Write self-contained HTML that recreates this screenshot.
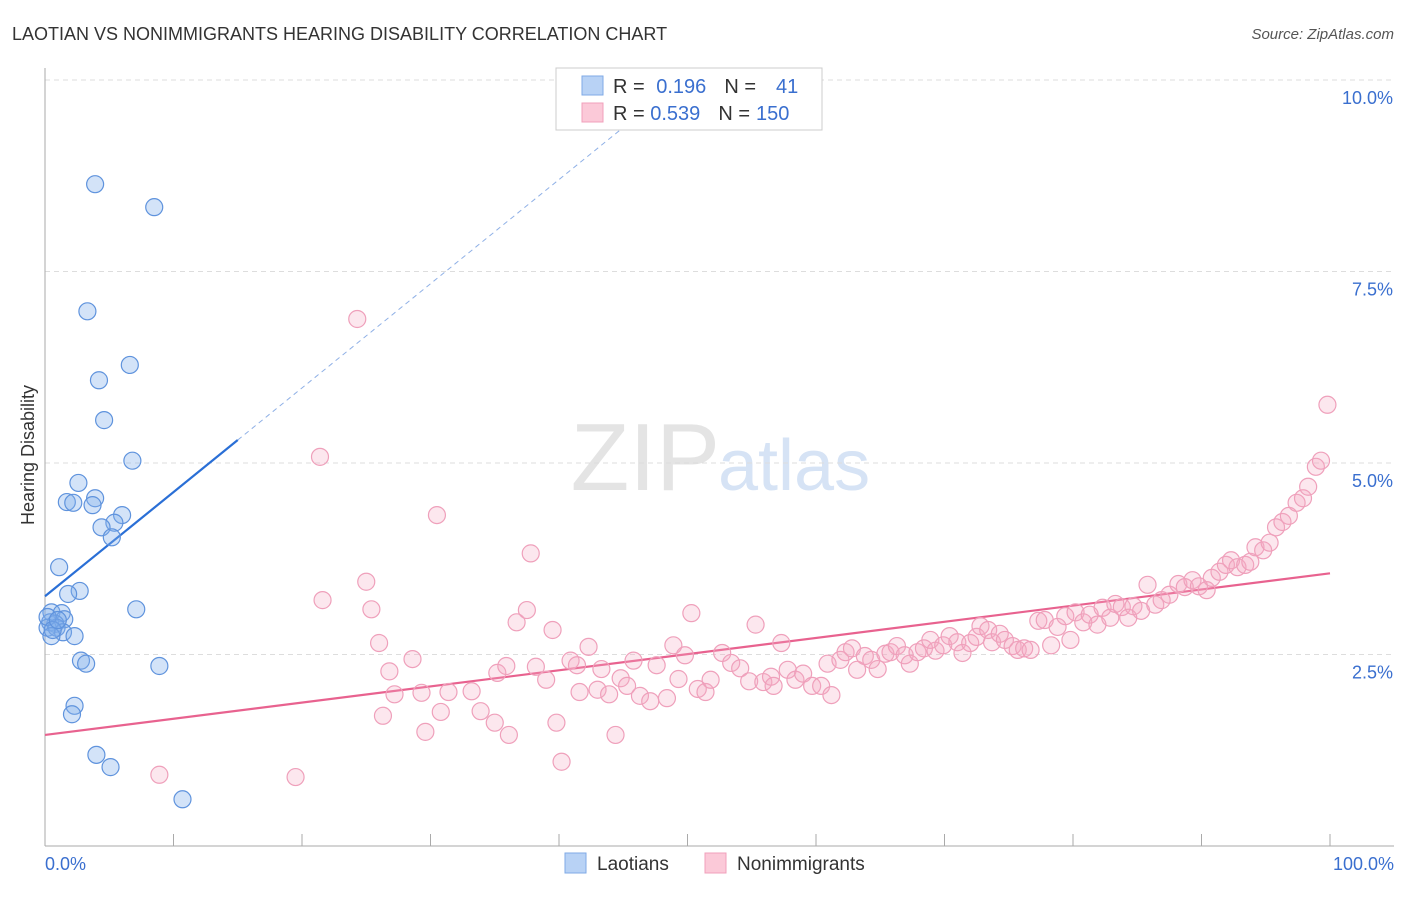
<!DOCTYPE html>
<html><head><meta charset="utf-8"><style>
body{margin:0;background:#fff;font-family:"Liberation Sans",sans-serif}
svg text{font-family:"Liberation Sans",sans-serif}
</style></head><body>
<svg id="chart" width="1406" height="892" viewBox="0 0 1406 892" xmlns="http://www.w3.org/2000/svg">
<text x="12" y="40" font-size="18" fill="#333">LAOTIAN VS NONIMMIGRANTS HEARING DISABILITY CORRELATION CHART</text>
<text x="1394" y="39" font-size="15" fill="#555" text-anchor="end" font-style="italic">Source: ZipAtlas.com</text>
<text x="720" y="490" font-size="96" fill="#e4e4e4" text-anchor="end" font-family="Liberation Serif">ZIP</text>
<text x="718" y="490" font-size="72" fill="#d6e3f5">atlas</text>
<g id="grid"></g>
<g id="axes"></g>
<g id="lines"></g>
<g id="pts"></g>
<text transform="translate(34,455) rotate(-90)" font-size="18" fill="#333" text-anchor="middle">Hearing Disability</text>
<g>
<rect x="556" y="68" width="266" height="62" fill="#fff" stroke="#ccc"/>
<rect x="582" y="76" width="21" height="19" fill="#b8d2f5" stroke="#7faae6"/>
<rect x="582" y="103" width="21" height="19" fill="#fbc9d8" stroke="#f0a0bb"/>
<text x="613" y="93" font-size="20" fill="#333">R = <tspan fill="#3a6fcf" dx="6">0.196</tspan><tspan dx="18" fill="#333">N =</tspan><tspan dx="20" fill="#3a6fcf">41</tspan></text>
<text x="613" y="120" font-size="20" fill="#333">R = <tspan fill="#3a6fcf">0.539</tspan><tspan dx="18" fill="#333">N =</tspan><tspan dx="6" fill="#3a6fcf">150</tspan></text>
</g>
<g>
<rect x="565" y="853" width="21" height="20" fill="#b8d2f5" stroke="#7faae6"/>
<text x="597" y="870" font-size="19" fill="#333">Laotians</text>
<rect x="705" y="853" width="21" height="20" fill="#fbc9d8" stroke="#f0a0bb"/>
<text x="737" y="870" font-size="19" fill="#333">Nonimmigrants</text>
</g>
</svg>
<script>
const blueX=[3.9,8.5,3.3,6.6,4.2,4.6,6.8,2.6,1.7,2.2,3.9,3.7,6.0,5.4,4.4,5.2,1.1,2.7,1.8,7.1,0.5,1.3,1.5,0.4,0.8,0.2,0.9,1.4,2.3,0.5,2.8,3.2,8.9,2.3,2.1,4.0,5.1,10.7,0.2,0.6,1.0];
const blueY=[8.64,8.34,6.98,6.28,6.08,5.56,5.03,4.74,4.49,4.48,4.54,4.45,4.32,4.22,4.16,4.03,3.64,3.33,3.29,3.09,3.05,3.04,2.96,2.92,2.90,2.85,2.85,2.79,2.74,2.74,2.42,2.38,2.35,1.83,1.72,1.19,1.03,0.61,2.99,2.82,2.95];
const pinkX=[8.9,19.5,24.3,21.4,30.5,37.8,25.0,21.6,25.4,26.0,26.8,28.6,27.2,29.3,26.3,29.6,30.8,31.4,33.2,33.9,35.0,36.1,35.2,35.9,36.7,37.5,38.2,39.0,39.5,39.8,40.2,40.9,41.4,41.6,42.3,43.0,43.3,43.9,44.4,44.8,45.3,45.8,46.3,47.1,47.6,48.4,48.9,49.3,49.8,50.3,50.8,51.4,51.8,52.7,53.4,54.1,54.8,55.3,55.9,56.5,56.7,57.3,57.8,58.4,59.0,59.7,60.4,60.9,61.2,61.9,62.3,62.8,63.2,63.8,64.3,64.8,65.4,65.8,66.3,66.9,67.3,67.9,68.4,68.9,69.3,69.9,70.4,71.0,71.4,72.0,72.5,72.8,73.4,73.7,74.3,74.7,75.3,75.7,76.2,76.7,77.3,77.8,78.3,78.8,79.4,79.8,80.2,80.8,81.3,81.9,82.3,82.9,83.3,83.8,84.3,84.7,85.3,85.8,86.4,86.9,87.5,88.2,88.7,89.3,89.8,90.4,90.8,91.4,91.9,92.3,92.8,93.4,93.8,94.2,94.8,95.3,95.8,96.3,96.8,97.4,97.9,98.3,98.9,99.3,99.8];
const pinkY=[0.93,0.90,6.88,5.08,4.32,3.82,3.45,3.21,3.09,2.65,2.28,2.44,1.98,2.00,1.70,1.49,1.75,2.01,2.02,1.76,1.61,1.45,2.26,2.35,2.92,3.08,2.34,2.17,2.82,1.61,1.10,2.42,2.36,2.01,2.60,2.04,2.31,1.98,1.45,2.19,2.09,2.42,1.96,1.89,2.36,1.93,2.62,2.18,2.49,3.04,2.05,2.01,2.17,2.52,2.39,2.32,2.15,2.89,2.14,2.21,2.09,2.65,2.30,2.17,2.25,2.09,2.09,2.38,1.97,2.43,2.53,2.58,2.30,2.48,2.43,2.31,2.51,2.53,2.61,2.49,2.38,2.53,2.58,2.69,2.55,2.62,2.74,2.66,2.52,2.65,2.73,2.87,2.82,2.66,2.77,2.69,2.61,2.56,2.58,2.56,2.94,2.95,2.62,2.86,3.00,2.69,3.05,2.92,3.02,2.89,3.11,2.98,3.16,3.12,2.98,3.13,3.07,3.41,3.15,3.21,3.28,3.42,3.38,3.47,3.39,3.34,3.50,3.58,3.67,3.73,3.64,3.67,3.71,3.90,3.86,3.96,4.16,4.23,4.31,4.48,4.54,4.69,4.95,5.03,5.76];
const yTicks=[2.5,5.0,7.5,10.0];
const yTickLabels=["2.5%","5.0%","7.5%","10.0%"];
const blueTrend=[3.26,0.136];   // intercept, slope
const pinkTrend=[1.45,0.0211];

const NS="http://www.w3.org/2000/svg";
const X=v=>45+v*12.85, Y=v=>846-v*76.6;
function mk(tag,attrs,parent){const e=document.createElementNS(NS,tag);for(const k in attrs)e.setAttribute(k,attrs[k]);document.getElementById(parent).appendChild(e);return e;}
yTicks.forEach((t,i)=>{
 const l=mk('line',{x1:45,x2:1394,y1:Y(t),y2:Y(t),stroke:'#ddd','stroke-dasharray':'5,4'},'grid');
 
 
 const tx=mk('text',{x:1393,y:Y(t)+24,'font-size':18,fill:'#3a6fcf','text-anchor':'end'},'grid');
 tx.textContent=yTickLabels[i];
 
 
});
const gtop=mk('line',{x1:45,x2:1394,y1:Y(10),y2:Y(10),stroke:'#ddd','stroke-dasharray':'5,4'},'grid');
const ax=mk('line',{x1:45,x2:1394,y1:846,y2:846,stroke:'#aaa'},'axes');


const ay=mk('line',{x1:45,x2:45,y1:68,y2:846,stroke:'#aaa'},'axes');


for(let i=1;i<=10;i++){const t=mk('line',{x1:X(i*10),x2:X(i*10),y1:846,y2:834,stroke:'#aaa'},'axes');
 
 }
const x0=mk('text',{x:45,y:870,'font-size':18,fill:'#3a6fcf'},'axes');x0.textContent='0.0%';


const x1=mk('text',{x:1394,y:870,'font-size':18,fill:'#3a6fcf','text-anchor':'end'},'axes');x1.textContent='100.0%';


// trend lines
const bl=mk('line',{x1:X(0),y1:Y(blueTrend[0]),x2:X(15),y2:Y(blueTrend[0]+15*blueTrend[1]),stroke:'#2a6fd6','stroke-width':2.2},'lines');


const bd=mk('line',{x1:X(15),y1:Y(blueTrend[0]+15*blueTrend[1]),x2:X(45),y2:Y(blueTrend[0]+45*blueTrend[1]),stroke:'#8fb0e6','stroke-width':1,'stroke-dasharray':'5,4'},'lines');


const pl=mk('line',{x1:X(0),y1:Y(pinkTrend[0]),x2:X(100),y2:Y(pinkTrend[0]+100*pinkTrend[1]),stroke:'#e8628f','stroke-width':2.2},'lines');


pinkX.forEach((v,i)=>{const c=mk('circle',{cx:X(v),cy:Y(pinkY[i]),r:8.5,fill:'rgba(246,170,195,0.28)',stroke:'#efa0bb','stroke-width':1.2},'pts');
 
 });
blueX.forEach((v,i)=>{const c=mk('circle',{cx:X(v),cy:Y(blueY[i]),r:8.5,fill:'rgba(130,175,235,0.35)',stroke:'#5f93dd','stroke-width':1.2},'pts');
 
 });
</script>
</body></html>
